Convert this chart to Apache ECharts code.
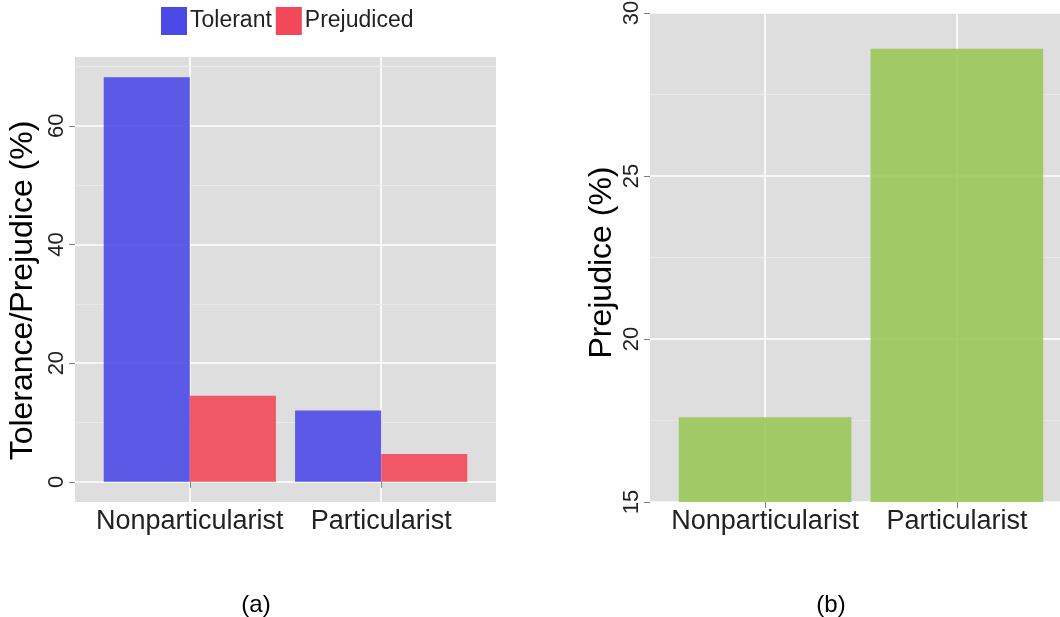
<!DOCTYPE html>
<html>
<head>
<meta charset="utf-8">
<script src="https://cdn.jsdelivr.net/npm/echarts@6/dist/echarts.min.js"></script>
<style>
  html, body { margin: 0; padding: 0; background: #ffffff; }
  #chart { width: 1060px; height: 617px; }
</style>
</head>
<body>
<div id="chart"></div>
<script>
// Categories shared by both panels
const categories = ['Nonparticularist', 'Particularist'];

// Panel (a): tolerance and prejudice shares (%)
const tolerant = [68.2, 12.0];
const prejudiced = [14.5, 4.7];
const ticksA = [0, 20, 40, 60];
const minorA = [10, 30, 50, 70];

// Panel (b): prejudice (%)
const prejudice = [17.6, 28.9];
const ticksB = [15, 20, 25, 30];
const minorB = [17.5, 22.5, 27.5];

const FONT = 'Liberation Sans, Arial, Helvetica, sans-serif';
const PANEL_BG = '#DEDEDE';
const TEXT = '#222222';
const TICK = '#7F7F7F';

// discrete x positions 1..n with ggplot-style 0.6 padding on each side
const xs = categories.map((_, i) => i + 1);
const xMin = 0.4, xMax = categories.length + 0.6;

// panel (a) y range: 5% padding around [0, max]
const maxA = Math.max(...tolerant, ...prejudiced);
const yMinA = -maxA * 0.05, yMaxA = maxA * 1.05;

function pairs(vals) { return vals.map((v, i) => [xs[i], v]); }

// bar drawn from 0 to value, centred at x + offset, clipped to the panel
function barRenderer(offset, halfWidth) {
  return function (params, api) {
    const x = api.value(0), y = api.value(1);
    const p0 = api.coord([x + offset - halfWidth, y]);
    const p1 = api.coord([x + offset + halfWidth, 0]);
    const rect = echarts.graphic.clipRectByRect(
      { x: p0[0], y: p0[1], width: p1[0] - p0[0], height: p1[1] - p0[1] },
      { x: params.coordSys.x, y: params.coordSys.y, width: params.coordSys.width, height: params.coordSys.height }
    );
    if (!rect) return null;
    return { type: 'rect', shape: rect, style: { fill: api.visual('color'), opacity: 0.9 } };
  };
}

function xAxisFor(gridIndex) {
  return {
    type: 'value', gridIndex, min: xMin, max: xMax,
    axisLine: { show: false },
    axisTick: { show: true, customValues: xs, length: 6, lineStyle: { color: TICK, width: 1 } },
    axisLabel: {
      customValues: xs, margin: 6,
      formatter: v => categories[Math.round(v) - 1] || '',
      fontSize: 27, color: TEXT, fontFamily: FONT
    },
    splitLine: { show: true, lineStyle: { color: '#FFFFFF', width: 1.6 } }
  };
}

function yAxisFor(gridIndex, min, max, ticks, name, gap, pad) {
  return {
    type: 'value', gridIndex, min, max,
    name, nameLocation: 'middle', nameGap: gap,
    nameTextStyle: { fontSize: 32, color: '#000000', fontFamily: FONT, padding: pad },
    axisLine: { show: false },
    axisTick: { show: true, customValues: ticks, length: 6, lineStyle: { color: TICK, width: 1 } },
    axisLabel: {
      customValues: ticks, rotate: 90, margin: 7,
      fontSize: 22, color: TEXT, fontFamily: FONT
    },
    splitLine: { show: true, lineStyle: { color: '#FFFFFF', width: 1.6 } }
  };
}

function minorLines(xi, yi, values) {
  return {
    type: 'line', xAxisIndex: xi, yAxisIndex: yi, data: [], silent: true, z: 1,
    markLine: {
      silent: true, symbol: 'none', z: 1, label: { show: false },
      lineStyle: { color: '#E9E9E9', width: 1, type: 'solid' },
      data: values.map(v => ({ yAxis: v }))
    }
  };
}

const chart = echarts.init(document.getElementById('chart'), null, { renderer: 'canvas' });

chart.setOption({
  animation: false,
  backgroundColor: '#FFFFFF',
  textStyle: { fontFamily: FONT },
  title: [
    { text: '(a)', left: 251, top: 588, textAlign: 'center',
      textStyle: { fontSize: 24, fontWeight: 'normal', color: '#000', fontFamily: FONT } },
    { text: '(b)', left: 826, top: 588, textAlign: 'center',
      textStyle: { fontSize: 24, fontWeight: 'normal', color: '#000', fontFamily: FONT } }
  ],
  legend: {
    data: ['Tolerant', 'Prejudiced'],
    left: 161, top: 7, icon: 'rect', padding: 0,
    itemWidth: 26, itemHeight: 28, itemGap: 4,
    textStyle: { fontSize: 23, color: TEXT, fontFamily: FONT, padding: [0, 0, 0, -2] }
  },
  grid: [
    { left: 75, right: 564, top: 57, bottom: 115, show: true, backgroundColor: PANEL_BG,
      borderWidth: 0, outerBoundsMode: 'none', containLabel: false },
    { left: 650, right: -12, top: 13, bottom: 115, show: true, backgroundColor: PANEL_BG,
      borderWidth: 0, outerBoundsMode: 'none', containLabel: false }
  ],
  xAxis: [xAxisFor(0), xAxisFor(1)],
  yAxis: [
    yAxisFor(0, yMinA, yMaxA, ticksA, 'Tolerance/Prejudice (%)', 36, [0, 22, 0, 0]),
    yAxisFor(1, 15, 30, ticksB, 'Prejudice (%)', 32, [0, 10, 0, 0])
  ],
  series: [
    minorLines(0, 0, minorA),
    minorLines(1, 1, minorB),
    {
      name: 'Tolerant', type: 'custom', xAxisIndex: 0, yAxisIndex: 0, z: 3,
      itemStyle: { color: '#4C4AE7' },
      encode: { x: 0, y: 1 },
      renderItem: barRenderer(-0.225, 0.225),
      data: pairs(tolerant)
    },
    {
      name: 'Prejudiced', type: 'custom', xAxisIndex: 0, yAxisIndex: 0, z: 3,
      itemStyle: { color: '#F2495A' },
      encode: { x: 0, y: 1 },
      renderItem: barRenderer(0.225, 0.225),
      data: pairs(prejudiced)
    },
    {
      name: 'Prejudice', type: 'custom', xAxisIndex: 1, yAxisIndex: 1, z: 3,
      itemStyle: { color: '#9AC758' },
      encode: { x: 0, y: 1 },
      renderItem: barRenderer(0, 0.45),
      data: pairs(prejudice)
    }
  ]
});
</script>
</body>
</html>
